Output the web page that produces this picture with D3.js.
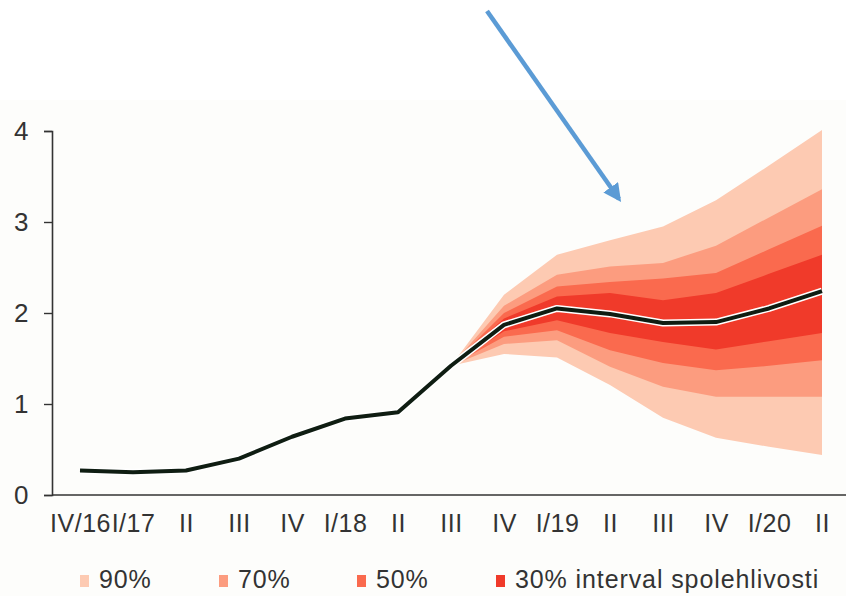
<!DOCTYPE html>
<html>
<head>
<meta charset="utf-8">
<script src="https://cdn.jsdelivr.net/npm/d3@7/dist/d3.min.js"></script>
<style>
  html, body { margin: 0; padding: 0; background: #ffffff; }
  svg { display: block; }
  text { font-family: "Liberation Sans", Arial, sans-serif; letter-spacing: 0.5px; }
  text.legend { letter-spacing: 0.9px; }
</style>
</head>
<body>
<svg id="chart" width="846" height="596"></svg>
<script>
// Quarter labels along the x axis
const quarters = ["IV/16", "I/17", "II", "III", "IV", "I/18", "II", "III", "IV", "I/19", "II", "III", "IV", "I/20", "II"];
// Central projection (history + forecast median)
const central = [0.27, 0.25, 0.27, 0.40, 0.64, 0.84, 0.91, 1.42, 1.87, 2.05, 1.99, 1.89, 1.90, 2.05, 2.24];
// Fan chart starts at this quarter index
const fanStart = 7;
// Confidence band bounds for quarters III/18 .. II/20
const hi90 = [1.42, 2.20, 2.64, 2.80, 2.95, 3.24, 3.62, 4.01];
const hi70 = [1.42, 2.08, 2.42, 2.51, 2.55, 2.74, 3.05, 3.36];
const hi50 = [1.42, 2.00, 2.29, 2.34, 2.38, 2.44, 2.70, 2.96];
const hi30 = [1.42, 1.94, 2.18, 2.22, 2.14, 2.22, 2.43, 2.64];
const lo30 = [1.42, 1.80, 1.92, 1.78, 1.68, 1.60, 1.69, 1.78];
const lo50 = [1.42, 1.74, 1.81, 1.59, 1.45, 1.37, 1.42, 1.48];
const lo70 = [1.42, 1.66, 1.70, 1.41, 1.19, 1.08, 1.08, 1.08];
const lo90 = [1.42, 1.55, 1.51, 1.21, 0.85, 0.63, 0.53, 0.44];
const yTicks = [0, 1, 2, 3, 4];
const legendLabels = ["90%", "70%", "50%", "30% interval spolehlivosti"];
const bandColors = ["#fdcab2", "#fc9c7f", "#fa6a4e", "#f03a2a"];

const svg = d3.select("#chart");

// slightly warm backdrop of the chart panel
svg.append("rect").attr("x", 0).attr("y", 100).attr("width", 846).attr("height", 496).attr("fill", "#fdfdfb");

const x = d3.scalePoint().domain(d3.range(quarters.length)).range([80, 822]);
const y = d3.scaleLinear().domain([0, 4]).range([495, 131]);

// confidence bands, widest first
const bands = [[lo90, hi90], [lo70, hi70], [lo50, hi50], [lo30, hi30]];
const area = d3.area()
  .x((d, i) => x(fanStart + i))
  .y0(d => y(d[0]))
  .y1(d => y(d[1]));
bands.forEach(([lo, hi], k) => {
  svg.append("path")
    .datum(lo.map((v, i) => [v, hi[i]]))
    .attr("d", area)
    .attr("fill", bandColors[k]);
});

// central line with a thin light halo
const line = d3.line().x((d, i) => x(i)).y(d => y(d));
svg.append("path").datum(central).attr("d", line)
  .attr("fill", "none").attr("stroke", "#ffffff").attr("stroke-width", 7)
  .attr("stroke-linejoin", "round");
svg.append("path").datum(central).attr("d", line)
  .attr("fill", "none").attr("stroke", "#0f1d12").attr("stroke-width", 4)
  .attr("stroke-linejoin", "round");

// y axis
const yAxis = svg.append("g").attr("transform", "translate(52,0)")
  .call(d3.axisLeft(y).tickValues(yTicks).tickSize(8).tickPadding(15).tickFormat(d3.format("d")));
yAxis.select(".domain").attr("stroke", "#333").attr("stroke-width", 1.6);
yAxis.selectAll(".tick line").attr("stroke", "#333").attr("stroke-width", 1.4);
yAxis.selectAll("text").attr("font-size", 26).attr("fill", "#333")
  .attr("font-family", "Liberation Sans, Arial, sans-serif");

// x axis baseline and quarter labels
const xAxis = svg.append("g").attr("transform", "translate(0,495)")
  .call(d3.axisBottom(x).tickSize(0).tickPadding(19).tickFormat(i => quarters[i]));
xAxis.select(".domain").remove();
svg.append("line").attr("x1", 52).attr("x2", 846).attr("y1", 495).attr("y2", 495)
  .attr("stroke", "#333").attr("stroke-width", 1.6);
xAxis.selectAll("text").attr("font-size", 25).attr("fill", "#333")
  .attr("font-family", "Liberation Sans, Arial, sans-serif");

// legend
const legendX = [80, 219, 357, 496];
legendLabels.forEach((lab, k) => {
  svg.append("rect").attr("x", legendX[k]).attr("y", 575).attr("width", 9).attr("height", 12)
    .attr("fill", bandColors[k]);
  svg.append("text").attr("class", "legend").attr("x", legendX[k] + 19).attr("y", 588)
    .attr("font-size", 25).attr("fill", "#333").text(lab);
});

// pointer arrow
svg.append("defs").append("marker")
  .attr("id", "head").attr("viewBox", "0 0 10 10").attr("refX", 8).attr("refY", 5)
  .attr("markerWidth", 4).attr("markerHeight", 4).attr("orient", "auto")
  .append("path").attr("d", "M0,0 L10,5 L0,10 Z").attr("fill", "#5b9bd5");
svg.append("line").attr("x1", 487).attr("y1", 11).attr("x2", 619).attr("y2", 199)
  .attr("stroke", "#5b9bd5").attr("stroke-width", 4.5).attr("marker-end", "url(#head)");
</script>
</body>
</html>
